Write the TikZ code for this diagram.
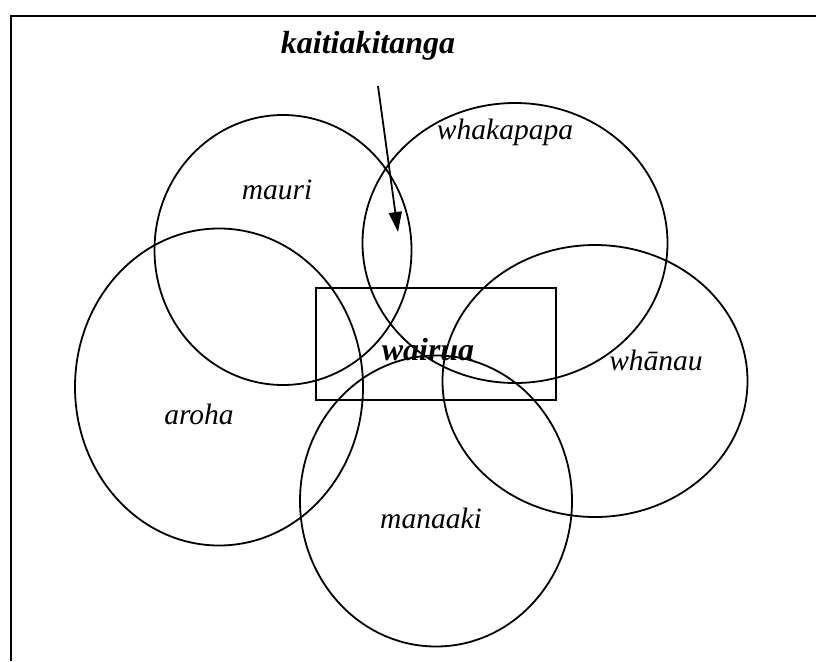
\documentclass[tikz,border=0pt]{standalone}
\usepackage{fontspec}
\setmainfont{Liberation Serif}
\usepackage{tikz}
\usetikzlibrary{shapes.geometric,arrows.meta}

\tikzset{
  ring/.style={draw,ellipse,line width=1.8pt,inner sep=0pt},
  word/.style={font=\fontsize{29.5}{32}\selectfont\itshape,inner sep=0pt},
  bigword/.style={font=\fontsize{32}{35}\selectfont\bfseries\itshape,inner sep=0pt}
}

\begin{document}
\begin{tikzpicture}[x=1pt,y=-1pt]
  \useasboundingbox (0,0) rectangle (816,661);
  % frame
  \draw[line width=2.2pt] (11,661) -- (11,16) -- (816,16);
  % rings
  \node[ring,minimum width=257pt,minimum height=270pt] (mauriring) at (283,250) {};
  \node[ring,minimum width=305pt,minimum height=280pt] (whakapaparing) at (515,243) {};
  \node[ring,minimum width=288pt,minimum height=317pt] (aroharing) at (219,387) {};
  \node[ring,minimum width=305pt,minimum height=272pt] (whanauring) at (595,381) {};
  \node[ring,minimum width=272pt,minimum height=291pt] (manaakiring) at (436,501) {};
  % centre box
  \node[draw,line width=1.8pt,minimum width=240pt,minimum height=112pt,inner sep=0pt] (wairuabox) at (436,344) {};
  % words
  \node[word] (mauri) at (277,190) {mauri};
  \node[word] (whakapapa) at (505,132) {whakapapa};
  \node[word] (whanau) at (656,360) {whānau};
  \node[word] (aroha) at (199,414) {aroha};
  \node[word] (manaaki) at (431,518) {manaaki};
  \node[bigword] (wairua) at (428,350) {wairua};
  \node[bigword] (kaitiakitanga) at (368,46) {kaitiakitanga};
  % arrow into the overlap
  \coordinate (overlap) at (398,232);
  \draw[line width=1.8pt,-{Triangle[length=20pt,width=13pt]}] (378,86) -- (overlap);
\end{tikzpicture}
\end{document}
